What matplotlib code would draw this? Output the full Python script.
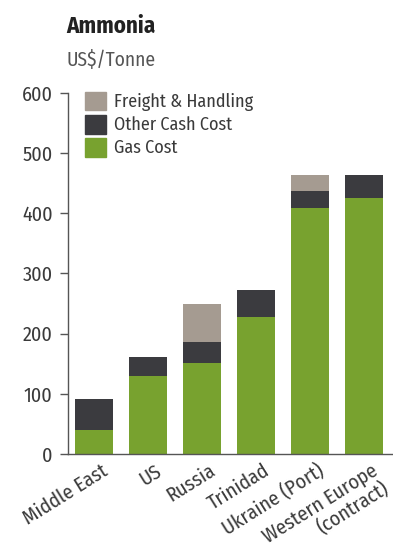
import matplotlib.pyplot as plt
import matplotlib.transforms as mtransforms
from matplotlib import font_manager as fm
from matplotlib.patches import Patch

# pick a condensed sans if one is installed
installed = {f.name for f in fm.fontManager.ttflist}
candidates = ['Fira Sans Condensed', 'Roboto Condensed', 'PT Sans Narrow',
              'Asap Condensed', 'Encode Sans Condensed', 'Archivo Narrow',
              'Open Sans Condensed', 'Open Sans']
font = next(c for c in candidates if c in installed)
plt.rcParams['font.family'] = [font, 'DejaVu Sans']

regions = ['Middle East', 'US', 'Russia', 'Trinidad', 'Ukraine (Port)',
           'Western Europe\n(contract)']
gas_cost = [40, 130, 151, 228, 409, 425]
other_cash = [51, 31, 35, 44, 28, 38]
freight = [0, 0, 63, 0, 26, 0]
yticks = [0, 100, 200, 300, 400, 500, 600]

green = '#78a22f'
dark = '#3b3b3f'
tan = '#a59b91'
txt = '#3a3a3a'

fig = plt.figure(figsize=(3.93, 5.43), dpi=100)
ax = fig.add_axes([0.173, 0.164, 0.824, 0.665])

x = range(len(regions))
w = 0.71
ax.bar(x, gas_cost, w, color=green, label='Gas Cost')
ax.bar(x, other_cash, w, bottom=gas_cost, color=dark, label='Other Cash Cost')
base = [g + o for g, o in zip(gas_cost, other_cash)]
ax.bar(x, freight, w, bottom=base, color=tan, label='Freight & Handling')

ax.set_xlim(-0.48, 5.52)
ax.set_ylim(0, 600)
ax.set_yticks(yticks)
ax.set_yticklabels([str(v) for v in yticks], fontsize=14.5, color=txt)
ax.set_xticks(list(x))
ax.set_xticklabels(regions, rotation=32, ha='right', rotation_mode='anchor',
                   fontsize=14.5, color=txt, multialignment='right',
                   linespacing=1.05)
ax.tick_params(axis='x', length=0, pad=5)
ax.tick_params(axis='y', length=6, width=1, color='#555555', pad=5)

# nudge x labels a little right of bar centre
shift = mtransforms.ScaledTranslation(7 / 100, 0, fig.dpi_scale_trans)
for lab in ax.get_xticklabels():
    lab.set_transform(lab.get_transform() + shift)

for s in ['top', 'right']:
    ax.spines[s].set_visible(False)
for s in ['left', 'bottom']:
    ax.spines[s].set_color('#555555')
    ax.spines[s].set_linewidth(1)

handles = [Patch(color=tan), Patch(color=dark), Patch(color=green)]
labels = ['Freight & Handling', 'Other Cash Cost', 'Gas Cost']
ax.legend(handles, labels, loc='upper left', bbox_to_anchor=(0.052, 1.003),
          frameon=False, fontsize=13, handlelength=1.2, handleheight=1.2,
          handletextpad=0.4, labelspacing=0.22, borderpad=0, borderaxespad=0,
          labelcolor=txt)

fig.text(66 / 393, 1 - 26 / 543, 'Ammonia', fontsize=16.5, fontweight='bold',
         color='#222222', va='center', ha='left')
fig.text(66 / 393, 1 - 60 / 543, 'US$/Tonne', fontsize=14, color='#555555',
         va='center', ha='left')

fig.savefig('out.png', dpi=100)
